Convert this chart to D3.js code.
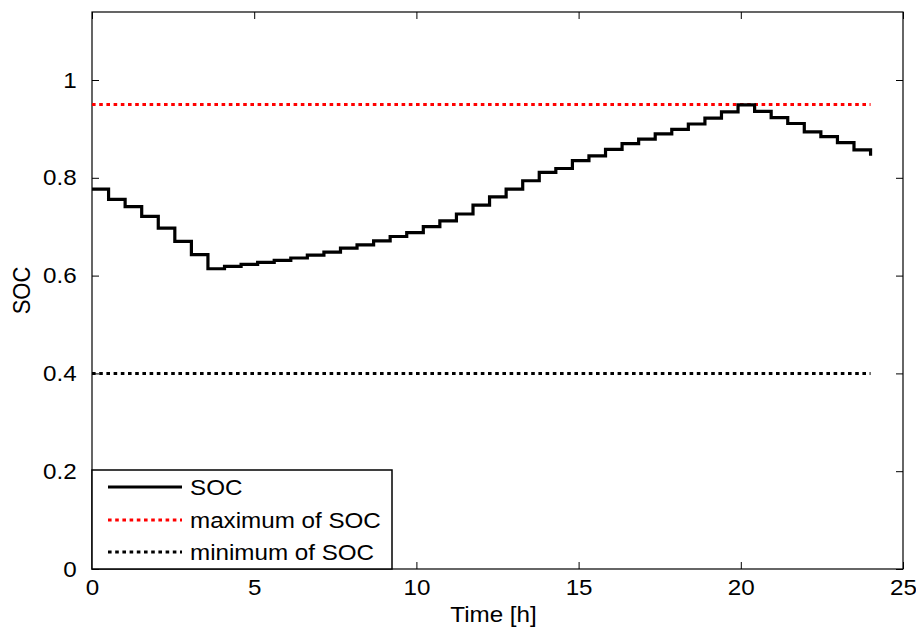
<!DOCTYPE html>
<html>
<head>
<meta charset="utf-8">
<script src="https://cdn.jsdelivr.net/npm/d3@7"></script>
<style>
  html, body { margin: 0; padding: 0; background: #fff; }
  svg { display: block; }
  text { font-family: "Liberation Sans", Arial, Helvetica, sans-serif; fill: #000; }
</style>
</head>
<body>
<svg id="chart" width="916" height="630"></svg>
<script>
// ---- data ----
const timeH = [0, 0.511, 1.021, 1.532, 2.043, 2.553, 3.064, 3.574, 4.085, 4.596,
  5.106, 5.617, 6.128, 6.638, 7.149, 7.660, 8.170, 8.681, 9.191, 9.702,
  10.213, 10.723, 11.234, 11.745, 12.255, 12.766, 13.277, 13.787, 14.298, 14.809,
  15.319, 15.830, 16.340, 16.851, 17.362, 17.872, 18.383, 18.894, 19.404, 19.915,
  20.426, 20.936, 21.447, 21.957, 22.468, 22.979, 23.489, 24.000];
const socValues = [0.777, 0.756, 0.741, 0.721, 0.697, 0.670, 0.643, 0.614, 0.619, 0.623,
  0.627, 0.631, 0.636, 0.642, 0.648, 0.656, 0.663, 0.671, 0.680, 0.688,
  0.700, 0.712, 0.726, 0.744, 0.761, 0.777, 0.794, 0.811, 0.819, 0.835,
  0.845, 0.858, 0.870, 0.879, 0.890, 0.899, 0.910, 0.922, 0.935, 0.949,
  0.936, 0.923, 0.911, 0.894, 0.884, 0.872, 0.857, 0.845];
const socMax = 0.95;
const socMin = 0.4;
const limitSpan = [0, 24];
const xTicks = [0, 5, 10, 15, 20, 25];
const yTicks = [0, 0.2, 0.4, 0.6, 0.8, 1];
const xDomain = [0, 25];
const yDomain = [0, 1.14];
const legendLabels = ["SOC", "maximum of SOC", "minimum of SOC"];
const xLabel = "Time [h]";
const yLabel = "SOC";

// ---- layout ----
const L = 92, R = 903, T = 12, B = 569;
const SX = 1.1; // horizontal text stretch seen in the reference
const svg = d3.select("#chart");
const x = d3.scaleLinear().domain(xDomain).range([L, R]);
const y = d3.scaleLinear().domain(yDomain).range([B, B - 1.14 * 489]);
const FS = 22;

// frame
svg.append("rect").attr("x", L).attr("y", T).attr("width", R - L).attr("height", B - T)
  .attr("fill", "#fff").attr("stroke", "#000").attr("stroke-width", 1.2);

const tickLen = 7;
// bottom axis (ticks inward)
const xb = svg.append("g").attr("transform", `translate(0,${B})`)
  .call(d3.axisBottom(x).tickValues(xTicks).tickSizeInner(-tickLen).tickSizeOuter(0).tickPadding(14).tickFormat(d3.format("d")));
xb.select(".domain").remove();
xb.selectAll("line").attr("stroke", "#000");
xb.selectAll("text").attr("font-size", FS).attr("font-family", "Liberation Sans, Arial, sans-serif")
  .attr("dy", "0.55em").attr("transform", `scale(${SX},1)`);
// top ticks
const xt = svg.append("g").attr("transform", `translate(0,${T})`)
  .call(d3.axisTop(x).tickValues(xTicks).tickSizeInner(-tickLen).tickSizeOuter(0).tickFormat(""));
xt.select(".domain").remove();
xt.selectAll("line").attr("stroke", "#000");
// left axis
const yl = svg.append("g").attr("transform", `translate(${L},0)`)
  .call(d3.axisLeft(y).tickValues(yTicks).tickSizeInner(-tickLen).tickSizeOuter(0).tickPadding(14).tickFormat(d3.format("~g")));
yl.select(".domain").remove();
yl.selectAll("line").attr("stroke", "#000");
yl.selectAll("text").attr("font-size", FS).attr("font-family", "Liberation Sans, Arial, sans-serif")
  .attr("transform", `scale(${SX},1)`);
// right ticks
const yr = svg.append("g").attr("transform", `translate(${R},0)`)
  .call(d3.axisRight(y).tickValues(yTicks).tickSizeInner(-tickLen).tickSizeOuter(0).tickFormat(""));
yr.select(".domain").remove();
yr.selectAll("line").attr("stroke", "#000");

// axis labels
svg.append("text").attr("transform", `translate(${x(12.5) - 4},622) scale(${SX},1)`).attr("text-anchor", "middle")
  .attr("font-size", FS).text(xLabel);
svg.append("text").attr("transform", `translate(30,${(T + B) / 2}) rotate(-90) scale(1,${SX})`)
  .attr("text-anchor", "middle").attr("font-size", FS).text(yLabel);

// limit lines
const lim = d3.line().x(d => x(d[0])).y(d => y(d[1]));
svg.append("path").datum(limitSpan.map(t => [t, socMax])).attr("d", lim)
  .attr("fill", "none").attr("stroke", "#ff0000").attr("stroke-width", 3).attr("stroke-dasharray", "3.6,3.6");
svg.append("path").datum(limitSpan.map(t => [t, socMin])).attr("d", lim)
  .attr("fill", "none").attr("stroke", "#000").attr("stroke-width", 3).attr("stroke-dasharray", "3.6,3.6");

// SOC stairs
const stairs = d3.line().x((d, i) => x(timeH[i])).y(d => y(d)).curve(d3.curveStepAfter);
svg.append("path").datum(socValues).attr("d", stairs)
  .attr("fill", "none").attr("stroke", "#000").attr("stroke-width", 3.2).attr("stroke-linejoin", "miter");

// legend
const lg = svg.append("g");
lg.append("rect").attr("x", L).attr("y", 470).attr("width", 300).attr("height", B - 470)
  .attr("fill", "#fff").attr("stroke", "#000").attr("stroke-width", 1.5);
const rows = [
  {label: legendLabels[0], color: "#000", dash: null, yy: 487},
  {label: legendLabels[1], color: "#ff0000", dash: "3.6,3.6", yy: 520},
  {label: legendLabels[2], color: "#000", dash: "3.6,3.6", yy: 552}
];
rows.forEach(r => {
  lg.append("line").attr("x1", 108).attr("x2", 182).attr("y1", r.yy).attr("y2", r.yy)
    .attr("stroke", r.color).attr("stroke-width", 3).attr("stroke-dasharray", r.dash);
  lg.append("text").attr("transform", `translate(190,${r.yy}) scale(${SX},1)`).attr("dy", "0.36em")
    .attr("font-size", FS).text(r.label);
});
</script>
</body>
</html>
